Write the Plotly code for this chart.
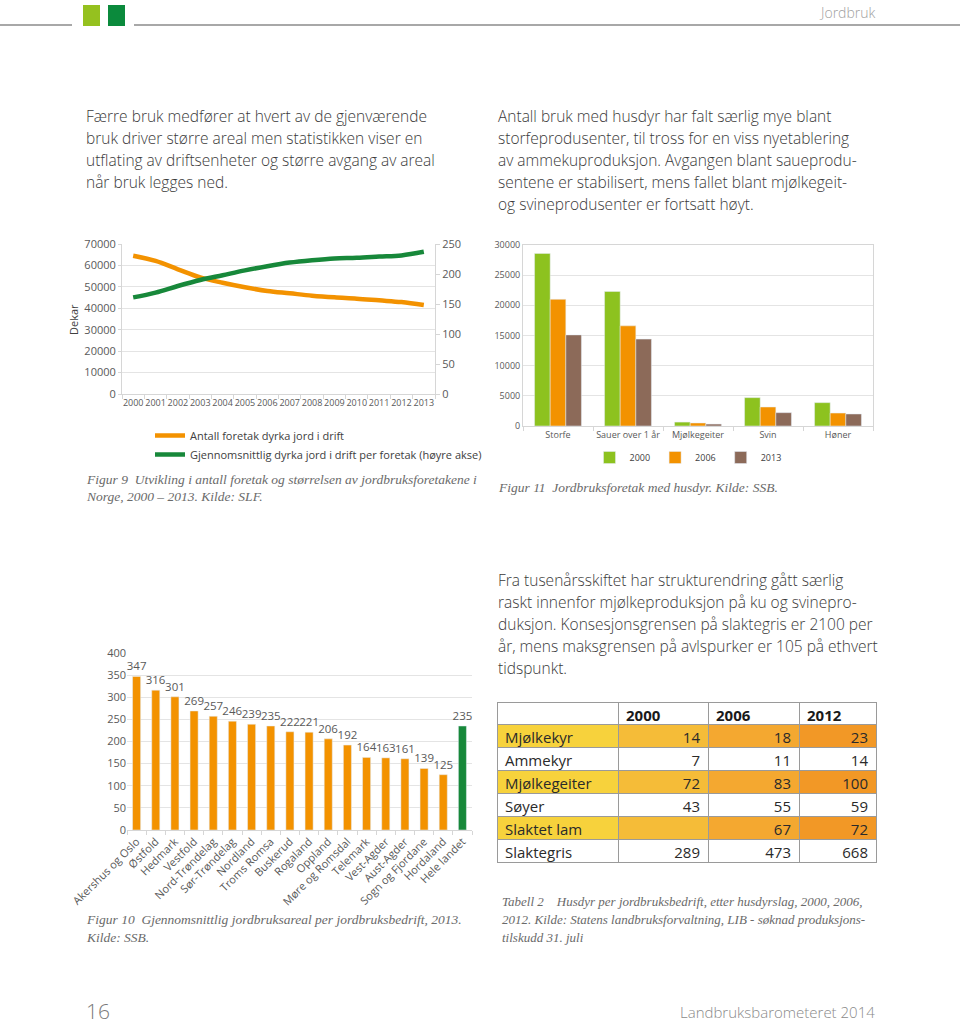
import plotly.graph_objects as go

W, H = 960, 1024


def px(x):
    return x / W


def py(y):
    return 1 - y / H


# ---------------- data ----------------
years = [str(y) for y in range(2000, 2014)]
antall_foretak = [64500, 62100, 58200, 54400, 51900, 49800, 48100,
                  47000, 45900, 45100, 44500, 43700, 42900, 41500]
snitt_areal = [161, 169, 180, 190, 198, 206, 213, 219, 223, 226, 227, 229, 231, 237]

husdyr_kat = ["Storfe", "Sauer over 1 år", "Mjølkegeiter", "Svin", "Høner"]
husdyr_2000 = [28600, 22300, 650, 4700, 3870]
husdyr_2006 = [21000, 16600, 500, 3150, 2150]
husdyr_2013 = [15100, 14400, 320, 2210, 1990]

fylker = ["Akershus og Oslo", "Østfold", "Hedmark", "Vestfold", "Nord-Trøndelag",
          "Sør-Trøndelag", "Nordland", "Troms Romsa", "Buskerud", "Rogaland",
          "Oppland", "Møre og Romsdal", "Telemark", "Vest-Agder", "Aust-Agder",
          "Sogn og Fjordane", "Hordaland", "Hele landet"]
areal_2013 = [347, 316, 301, 269, 257, 246, 239, 235, 222, 221, 206, 192,
              164, 163, 161, 139, 125, 235]

tabell_dyr = ["Mjølkekyr", "Ammekyr", "Mjølkegeiter", "Søyer", "Slaktet lam", "Slaktegris"]
tabell_2000 = [14, 7, 72, 43, None, 289]
tabell_2006 = [18, 11, 83, 55, 67, 473]
tabell_2012 = [23, 14, 100, 59, 72, 668]
tabell_aar = ["2000", "2006", "2012"]

# ---------------- styles ----------------
ORANGE = "#F39200"
GREEN = "#17883A"
LIME = "#8DC21F"
BROWN = "#8C6A59"
GRID = "#E4E4E4"
AXL = "#D6D6D6"
TICKC = "#595959"
BODY = "#3A3A3A"
CAP = "#6A6A6A"
SANS = "Open Sans"
SERIF = "Liberation Serif"

fig = go.Figure()

# Figure 9 - lines
fig.add_trace(go.Scatter(x=years, y=antall_foretak, mode="lines",
                         name="Antall foretak dyrka jord i drift",
                         line=dict(color=ORANGE, width=4.5, shape="spline"),
                         xaxis="x", yaxis="y", legend="legend"))
fig.add_trace(go.Scatter(x=years, y=snitt_areal, mode="lines",
                         name="Gjennomsnittlig dyrka jord i drift per foretak (høyre akse)",
                         line=dict(color=GREEN, width=4.5, shape="spline"),
                         xaxis="x", yaxis="y2", legend="legend"))

# Figure 11 - grouped bars
for yr, vals, col in [("2000", husdyr_2000, LIME), ("2006", husdyr_2006, ORANGE),
                      ("2013", husdyr_2013, BROWN)]:
    fig.add_trace(go.Bar(x=husdyr_kat, y=vals, name=yr, marker_color=col,
                         xaxis="x3", yaxis="y3", legend="legend2"))

# Figure 10 - bars by county
bar_cols = [ORANGE] * (len(fylker) - 1) + [GREEN]
fig.add_trace(go.Bar(x=fylker, y=areal_2013, marker_color=bar_cols, width=0.42,
                     text=[str(v) for v in areal_2013], textposition="outside",
                     constraintext="none",
                     textfont=dict(family=SANS, size=11.5, color=TICKC),
                     cliponaxis=False, showlegend=False,
                     xaxis="x4", yaxis="y4"))

# Table 2


def fmt(vals):
    return ["" if v is None else str(v) for v in vals]


row_fill = ["#F7D23C", "#F5BC38", "#F4A830", "#F29826"]
fills = []
for c in row_fill:
    fills.append([c if i % 2 == 0 else "white" for i in range(len(tabell_dyr))])

fig.add_trace(go.Table(
    domain=dict(x=[px(497), px(876)], y=[py(890), py(702)]),
    columnwidth=[121, 90, 91, 77],
    header=dict(values=[" "] + tabell_aar,
                align="left", height=22, fill_color="white",
                line=dict(color="#9A9A9A", width=1),
                font=dict(family=SANS, size=15, color="#1A1A1A", weight="bold")),
    cells=dict(values=[tabell_dyr, fmt(tabell_2000), fmt(tabell_2006), fmt(tabell_2012)],
               align=["left", "right", "right", "right"], height=23,
               fill_color=fills, line=dict(color="#9A9A9A", width=1),
               font=dict(family=SANS, size=15, color="#2A2A2A"))))

# ---------------- layout ----------------
fig.update_layout(
    width=W, height=H, margin=dict(l=0, r=0, t=0, b=0, pad=0, autoexpand=False),
    paper_bgcolor="white", plot_bgcolor="white",
    barmode="group", bargap=0.33, bargroupgap=0,
    font=dict(family=SANS, color=BODY),
    xaxis=dict(domain=[px(122), px(435)], anchor="y", type="category",
               range=[-0.5, 13.5], tickfont=dict(family=SANS, size=9, color=TICKC),
               ticks="outside", tickson="boundaries", ticklen=4, tickcolor=AXL,
               tickangle=0, showline=True, linecolor=AXL, showgrid=False,
               automargin=False),
    yaxis=dict(domain=[py(394), py(244)], anchor="x", range=[0, 70000],
               dtick=10000, tickformat="d", gridcolor=GRID, showline=True, linecolor=AXL,
               ticks="outside", ticklen=3, tickcolor=AXL, zeroline=False,
               automargin=False,
               tickfont=dict(family=SANS, size=11, color=TICKC)),
    yaxis2=dict(overlaying="y", side="right", anchor="x", range=[0, 250],
                dtick=50, showgrid=False, showline=True, linecolor=AXL,
                ticks="outside", ticklen=4, tickcolor=AXL, zeroline=False,
                automargin=False,
                tickfont=dict(family=SANS, size=11, color=TICKC)),
    xaxis3=dict(domain=[px(523), px(873)], anchor="y3", type="category",
                tickfont=dict(family=SANS, size=9, color=TICKC), tickangle=0,
                ticks="outside", tickson="boundaries", ticklen=4, tickcolor=AXL,
                showline=True, mirror=True, linecolor=AXL, showgrid=False,
                automargin=False),
    yaxis3=dict(domain=[py(426), py(245)], anchor="x3", range=[0, 30000],
                dtick=5000, tickformat="d", gridcolor=GRID, showline=True, mirror=True,
                linecolor=AXL, zeroline=False, automargin=False,
                tickfont=dict(family=SANS, size=9, color=TICKC)),
    xaxis4=dict(domain=[px(127), px(472)], anchor="y4", type="category",
                tickangle=-45, tickfont=dict(family=SANS, size=11, color=TICKC),
                ticks="outside", tickson="boundaries", ticklen=4, tickcolor=AXL,
                showline=True, linecolor=AXL, showgrid=False, automargin=False),
    yaxis4=dict(domain=[py(830), py(653)], anchor="x4", range=[0, 400],
                dtick=50, gridcolor=GRID, zeroline=False, automargin=False,
                tickfont=dict(family=SANS, size=11, color=TICKC)),
    legend=dict(x=px(150), y=py(421), xanchor="left", yanchor="top",
                font=dict(family=SANS, size=11, color="#404040"),
                bgcolor="rgba(0,0,0,0)", tracegroupgap=0, itemwidth=30),
    legend2=dict(orientation="h", x=px(688), y=py(443), xanchor="center",
                 yanchor="top", font=dict(family=SANS, size=9, color="#404040"),
                 bgcolor="rgba(0,0,0,0)", itemwidth=30),
)

# ---------------- page decorations ----------------
shapes = [
    dict(type="line", xref="paper", yref="paper", x0=px(0), x1=px(72),
         y0=py(25), y1=py(25), line=dict(color="#A8A8A8", width=2)),
    dict(type="line", xref="paper", yref="paper", x0=px(134), x1=px(960),
         y0=py(25), y1=py(25), line=dict(color="#A8A8A8", width=2)),
    dict(type="rect", xref="paper", yref="paper", x0=px(83), x1=px(100),
         y0=py(26), y1=py(5), fillcolor="#95C11F", line=dict(width=0)),
    dict(type="rect", xref="paper", yref="paper", x0=px(108), x1=px(125),
         y0=py(26), y1=py(5), fillcolor="#0B8A3C", line=dict(width=0)),
]
fig.update_layout(shapes=shapes)

ann = []


def txt(x, y, s, size=16, color=BODY, family=SANS, anchor="left", weight=None, angle=0):
    f = dict(family=family, size=size, color=color)
    if weight:
        f["weight"] = weight
    ann.append(dict(x=px(x), y=py(y), xref="paper", yref="paper", text=s,
                    showarrow=False, xanchor=anchor, yanchor="middle",
                    font=f, textangle=angle))


para1 = ["Færre bruk medfører at hvert av de gjenværende",
         "bruk driver større areal men statistikken viser en",
         "utflating av driftsenheter og større avgang av areal",
         "når bruk legges ned."]
para2 = ["Antall bruk med husdyr har falt særlig mye blant",
         "storfeprodusenter, til tross for en viss nyetablering",
         "av ammekuproduksjon. Avgangen blant saueprodu-",
         "sentene er stabilisert, mens fallet blant mjølkegeit-",
         "og svineprodusenter er fortsatt høyt."]
para3 = ["Fra tusenårsskiftet har strukturendring gått særlig",
         "raskt innenfor mjølkeproduksjon på ku og svinepro-",
         "duksjon. Konsesjonsgrensen på slaktegris er 2100 per",
         "år, mens maksgrensen på avlspurker er 105 på ethvert",
         "tidspunkt."]
BS = 15.5
for i, s in enumerate(para1):
    txt(84, 116 + 22 * i, s, size=BS, weight=300)
for i, s in enumerate(para2):
    txt(496, 116 + 22 * i, s, size=BS, weight=300)
for i, s in enumerate(para3):
    txt(496, 580 + 22 * i, s, size=BS, weight=300)

# captions
txt(84, 479, "<i>Figur 9  Utvikling i antall foretak og størrelsen av jordbruksforetakene i</i>",
    size=13.5, color=CAP, family=SERIF)
txt(84, 496, "<i>Norge, 2000 – 2013. Kilde: SLF.</i>", size=13.5, color=CAP, family=SERIF)
txt(496, 487, "<i>Figur 11  Jordbruksforetak med husdyr. Kilde: SSB.</i>",
    size=13.5, color=CAP, family=SERIF)
txt(84, 919, "<i>Figur 10  Gjennomsnittlig jordbruksareal per jordbruksbedrift, 2013.</i>",
    size=13.5, color=CAP, family=SERIF)
txt(84, 937, "<i>Kilde: SSB.</i>", size=13.5, color=CAP, family=SERIF)
txt(500, 901, "<i>Tabell 2    Husdyr per jordbruksbedrift, etter husdyrslag, 2000, 2006,</i>",
    size=13, color=CAP, family=SERIF)
txt(500, 919, "<i>2012. Kilde: Statens landbruksforvaltning, LIB - søknad produksjons-</i>",
    size=13, color=CAP, family=SERIF)
txt(500, 937, "<i>tilskudd 31. juli</i>", size=13, color=CAP, family=SERIF)

# axis title of figure 9
txt(73, 320, "Dekar", size=11, color="#404040", anchor="center", angle=-90)

# header / footer
txt(877, 12, "Jordbruk", size=14, color="#A0A0A0", anchor="right", weight=300)
txt(84, 1011, "16", size=21, color="#7A7A7A", weight=300)
txt(877, 1012, "Landbruksbarometeret 2014", size=15, color="#8A8A8A", anchor="right", weight=300)

fig.update_layout(annotations=ann)

fig.write_html("out.html", config={"displayModeBar": False},
               post_script="document.body.style.margin='0';document.body.style.overflow='hidden';")
